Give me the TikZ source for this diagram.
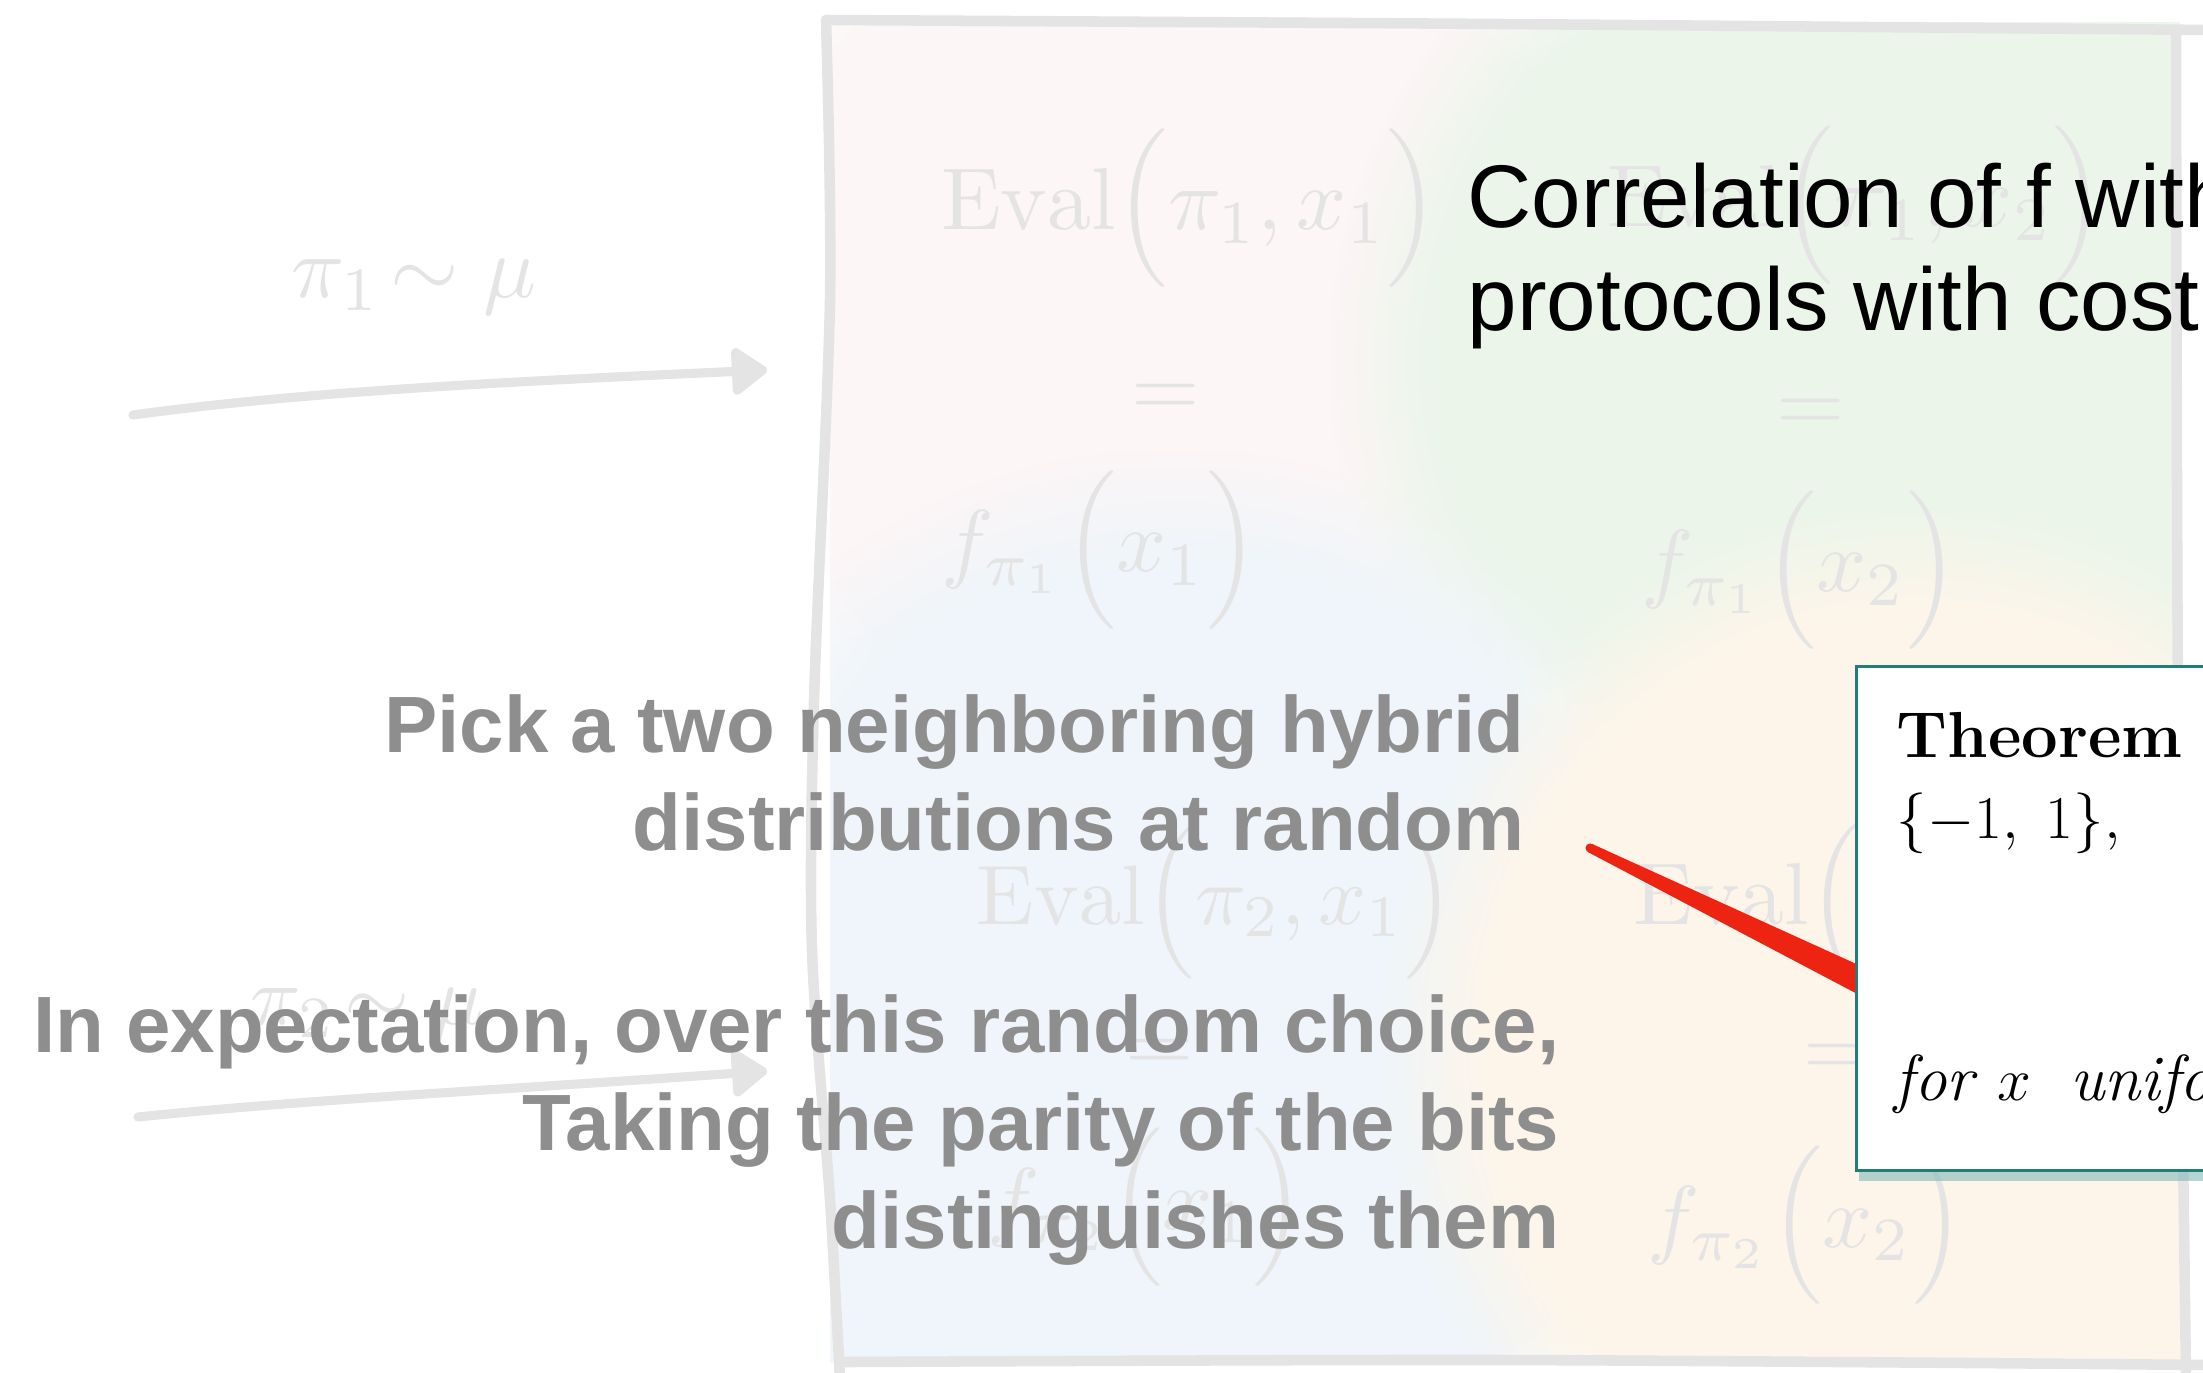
\documentclass[tikz,border=0pt]{standalone}
\usepackage{amsmath}
\usepackage{fontspec}
\usepackage{tikz}
\usetikzlibrary{positioning,calc,shadows,arrows.meta,fadings}
\newfontfamily\slidefont{Liberation Sans}
\definecolor{sketchgrey}{HTML}{E4E4E4}
\definecolor{notegrey}{HTML}{8E8E8E}
\definecolor{thmteal}{HTML}{1E7F7A}
\definecolor{pointred}{HTML}{EE2412}
\definecolor{patchpink}{HTML}{FCF6F6}
\definecolor{patchgreen}{HTML}{EBF5EA}
\definecolor{patchblue}{HTML}{EFF5FA}
\definecolor{patchorange}{HTML}{FDF5EA}

\begin{document}
\begin{tikzpicture}[x=0.01cm, y=0.01cm,
    sketch/.style={draw=sketchgrey, line width=3pt, line cap=round, line join=round},
    sketcharrow/.style={sketch, line width=2.6pt, -{Triangle[length=11pt, width=15pt, round]}},
    scribble/.style={text=sketchgrey, inner sep=0pt, scale=2.5},
    wash/.style={path fading=circle with fuzzy edge 20 percent},
    note/.style={text=notegrey, font=\slidefont\bfseries\fontsize{22.7}{27.9}\selectfont, inner sep=0pt, anchor=base east},
    headline/.style={font=\slidefont\fontsize{25.3}{29}\selectfont, inner sep=0pt, anchor=base west},
    thmbox/.style={draw=thmteal, line width=0.9pt, fill=white, inner sep=0pt,
        drop shadow={shadow xshift=0.8pt, shadow yshift=-3pt, fill=thmteal!55!white, opacity=0.6}},
    thmtext/.style={inner sep=0pt, anchor=base west, font=\fontsize{18.5}{22}\selectfont}
]
\useasboundingbox (0,0) rectangle (2203,-1372);
\clip (0,0) rectangle (2203,-1372);

% faint colour washes behind the sketch, kept inside the frame
\begin{scope}
\clip (830,-22) rectangle (2180,-1362);
\fill[patchpink, wash] (650,200) rectangle (1700,-850);
\fill[patchgreen, wash] (1330,180) rectangle (2420,-900);
\fill[patchblue, wash] (600,-450) rectangle (1750,-1600);
\fill[patchorange, wash] (1380,-500) rectangle (2450,-1600);
\end{scope}

% hand-drawn frame
\draw[sketch] plot[smooth] coordinates {(826,-20) (1500,-24) (2210,-30)};
\draw[sketch] plot[smooth] coordinates {(826,-20) (830,-300) (814,-700) (812,-950) (830,-1200) (840,-1380)};
\draw[sketch] plot[smooth] coordinates {(2176,-32) (2178,-700) (2186,-1380)};
\draw[sketch] plot[smooth] coordinates {(845,-1362) (1500,-1360) (2210,-1365)};

% sampling arrows on the left
\node[scribble, scale=1.0] (pione) at (414,-287) {$\pi_1\!\sim\mu$};
\coordinate (topfrom) at (133,-415);
\coordinate (topto) at (767,-370);
\draw[sketcharrow] (topfrom) .. controls (300,-392) and (500,-382) .. (topto);

\node[scribble, scale=0.95] (pitwo) at (367,-1015) {$\pi_2\!\sim\mu$};
\coordinate (botfrom) at (138,-1117);
\coordinate (botto) at (767,-1071);
\draw[sketcharrow] (botfrom) .. controls (300,-1100) and (500,-1090) .. (botto);

% the four cells
\node[scribble] (evalaa) at (1190,-208) {$\mathrm{Eval}\Bigl(\pi_1,x_1\Bigr)$};
\node[scribble] (eqa) at (1166,-400) {$=$};
\node[scribble] (faa) at (1100,-550) {$f_{\pi_1}\Bigl(x_1\Bigr)$};

\node[scribble] (evalab) at (1856,-205) {$\mathrm{Eval}\Bigl(\pi_1,x_2\Bigr)$};
\node[scribble] (eqb) at (1811,-415) {$=$};
\node[scribble] (fab) at (1800,-570) {$f_{\pi_1}\Bigl(x_2\Bigr)$};

\node[scribble, scale=0.96] (evalba) at (1216,-903) {$\mathrm{Eval}\Bigl(\pi_2,x_1\Bigr)$};
\node[scribble] (eqc) at (1160,-1055) {$=$};
\node[scribble] (fba) at (1146,-1207) {$f_{\pi_2}\Bigl(x_1\Bigr)$};

\node[scribble, anchor=west] (evalbb) at (1632,-903) {$\mathrm{Eval}\Bigl(\pi_2,x_2\Bigr)$};
\node[scribble] (eqd) at (1838,-1060) {$=$};
\node[scribble] (fbb) at (1806,-1225) {$f_{\pi_2}\Bigl(x_2\Bigr)$};

% slide text
\node[headline] (corr) at (1467,-227) {Correlation of f with};
\node[headline] (proto) at (1467,-330) {protocols with cost};

\node[note] (pick) at (1525,-752) {Pick a two neighboring hybrid};
\node[note] (distr) at (1525,-850) {distributions at random};

\node[note] (expect) at (1560,-1052) {In expectation, over this random choice,};
\node[note] (parity) at (1560,-1150) {Taking the parity of the bits};
\node[note] (disting) at (1560,-1248) {distinguishes them};

% red pointer into the theorem
\coordinate (redtip) at (1590,-848);
\coordinate (redend) at (1990,-1044);
\fill[pointred] ($(redtip)!1.3pt!90:(redend)$) -- ($(redend)!5pt!-90:(redtip)$)
    -- ($(redend)!5pt!90:(redtip)$) -- ($(redtip)!1.3pt!-90:(redend)$) -- cycle;
\fill[pointred] (redtip) circle (1.3pt);

% theorem clipping
\node[thmbox, anchor=north west, minimum width=4.2cm, minimum height=5.04cm] (thm) at (1855,-665) {};
\node[thmtext, font=\bfseries\fontsize{18.5}{22}\selectfont] (thmhead) at (1896,-757) {Theorem};
\node[thmtext] (thmset) at (1896,-838) {$\{-1,\;1\},$};
\node[thmtext] (thmfor) at (1894,-1100) {\textit{for} $x$\ \ \textit{uniformly}};

\end{tikzpicture}
\end{document}
